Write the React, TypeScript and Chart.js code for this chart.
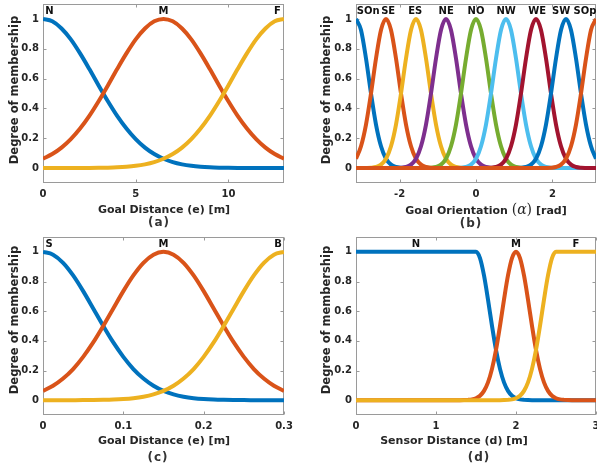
import React, { useEffect, useRef } from 'react';
import { Chart, registerables } from 'chart.js';

Chart.register(...registerables);

// ---------------- data ----------------
const yTickValues = [0, 0.2, 0.4, 0.6, 0.8, 1];
const yTickLabels = ['0', '0.2', '0.4', '0.6', '0.8', '1'];
const labelLevel = 1.05;

// (a) goal distance [m]
const distX = [0, 0.5, 1, 1.5, 2, 2.5, 3, 3.5, 4, 4.5, 5, 5.5, 6, 6.5, 7, 7.5, 8, 8.5, 9, 9.5, 10, 10.5, 11, 11.5, 12, 12.5, 13];
const distNear = [1, 0.984, 0.936, 0.863, 0.769, 0.664, 0.554, 0.448, 0.35, 0.265, 0.194, 0.137, 0.094, 0.0625, 0.04, 0.025, 0.015, 0.0087, 0.0049, 0.0027, 0.0014, 0.0007, 0.0004, 0.0002, 0.0001, 0, 0];
const distMid = [0.0625, 0.094, 0.137, 0.194, 0.265, 0.35, 0.448, 0.554, 0.664, 0.769, 0.863, 0.936, 0.984, 1, 0.984, 0.936, 0.863, 0.769, 0.664, 0.554, 0.448, 0.35, 0.265, 0.194, 0.137, 0.094, 0.0625];
const distFar = [0, 0, 0.0001, 0.0002, 0.0004, 0.0007, 0.0014, 0.0027, 0.0049, 0.0087, 0.015, 0.025, 0.04, 0.0625, 0.094, 0.137, 0.194, 0.265, 0.35, 0.448, 0.554, 0.664, 0.769, 0.863, 0.936, 0.984, 1];
const distTicks = [0, 5, 10];
const distTickLabels = ['0', '5', '10'];
const distNames = ['N', 'M', 'F'];
const distNameX = [0.35, 6.5, 12.65];

// (b) goal orientation [rad]
const orientX = [-3.1416, -3.0107, -2.8798, -2.7489, -2.618, -2.4871, -2.3562, -2.2253, -2.0944, -1.9635, -1.8326, -1.7017, -1.5708, -1.4399, -1.309, -1.1781, -1.0472, -0.9163, -0.7854, -0.6545, -0.5236, -0.3927, -0.2618, -0.1309, 0, 0.1309, 0.2618, 0.3927, 0.5236, 0.6545, 0.7854, 0.9163, 1.0472, 1.1781, 1.309, 1.4399, 1.5708, 1.7017, 1.8326, 1.9635, 2.0944, 2.2253, 2.3562, 2.4871, 2.618, 2.7489, 2.8798, 3.0107, 3.1416];
const orientSOn = [1, 0.926, 0.735, 0.5, 0.292, 0.146, 0.0625, 0.023, 0.0072, 0.002, 0.0005, 0.0001, 0, 0, 0, 0, 0, 0, 0, 0, 0, 0, 0, 0, 0, 0, 0, 0, 0, 0, 0, 0, 0, 0, 0, 0, 0, 0, 0, 0, 0, 0, 0, 0, 0, 0, 0, 0, 0];
const orientSE = [0.0625, 0.146, 0.292, 0.5, 0.735, 0.926, 1, 0.926, 0.735, 0.5, 0.292, 0.146, 0.0625, 0.023, 0.0072, 0.002, 0.0005, 0.0001, 0, 0, 0, 0, 0, 0, 0, 0, 0, 0, 0, 0, 0, 0, 0, 0, 0, 0, 0, 0, 0, 0, 0, 0, 0, 0, 0, 0, 0, 0, 0];
const orientES = [0, 0.0001, 0.0005, 0.002, 0.0072, 0.023, 0.0625, 0.146, 0.292, 0.5, 0.735, 0.926, 1, 0.926, 0.735, 0.5, 0.292, 0.146, 0.0625, 0.023, 0.0072, 0.002, 0.0005, 0.0001, 0, 0, 0, 0, 0, 0, 0, 0, 0, 0, 0, 0, 0, 0, 0, 0, 0, 0, 0, 0, 0, 0, 0, 0, 0];
const orientNE = [0, 0, 0, 0, 0, 0, 0, 0.0001, 0.0005, 0.002, 0.0072, 0.023, 0.0625, 0.146, 0.292, 0.5, 0.735, 0.926, 1, 0.926, 0.735, 0.5, 0.292, 0.146, 0.0625, 0.023, 0.0072, 0.002, 0.0005, 0.0001, 0, 0, 0, 0, 0, 0, 0, 0, 0, 0, 0, 0, 0, 0, 0, 0, 0, 0, 0];
const orientNO = [0, 0, 0, 0, 0, 0, 0, 0, 0, 0, 0, 0, 0, 0.0001, 0.0005, 0.002, 0.0072, 0.023, 0.0625, 0.146, 0.292, 0.5, 0.735, 0.926, 1, 0.926, 0.735, 0.5, 0.292, 0.146, 0.0625, 0.023, 0.0072, 0.002, 0.0005, 0.0001, 0, 0, 0, 0, 0, 0, 0, 0, 0, 0, 0, 0, 0];
const orientNW = [0, 0, 0, 0, 0, 0, 0, 0, 0, 0, 0, 0, 0, 0, 0, 0, 0, 0, 0, 0.0001, 0.0005, 0.002, 0.0072, 0.023, 0.0625, 0.146, 0.292, 0.5, 0.735, 0.926, 1, 0.926, 0.735, 0.5, 0.292, 0.146, 0.0625, 0.023, 0.0072, 0.002, 0.0005, 0.0001, 0, 0, 0, 0, 0, 0, 0];
const orientWE = [0, 0, 0, 0, 0, 0, 0, 0, 0, 0, 0, 0, 0, 0, 0, 0, 0, 0, 0, 0, 0, 0, 0, 0, 0, 0.0001, 0.0005, 0.002, 0.0072, 0.023, 0.0625, 0.146, 0.292, 0.5, 0.735, 0.926, 1, 0.926, 0.735, 0.5, 0.292, 0.146, 0.0625, 0.023, 0.0072, 0.002, 0.0005, 0.0001, 0];
const orientSW = [0, 0, 0, 0, 0, 0, 0, 0, 0, 0, 0, 0, 0, 0, 0, 0, 0, 0, 0, 0, 0, 0, 0, 0, 0, 0, 0, 0, 0, 0, 0, 0.0001, 0.0005, 0.002, 0.0072, 0.023, 0.0625, 0.146, 0.292, 0.5, 0.735, 0.926, 1, 0.926, 0.735, 0.5, 0.292, 0.146, 0.0625];
const orientSOp = [0, 0, 0, 0, 0, 0, 0, 0, 0, 0, 0, 0, 0, 0, 0, 0, 0, 0, 0, 0, 0, 0, 0, 0, 0, 0, 0, 0, 0, 0, 0, 0, 0, 0, 0, 0, 0, 0.0001, 0.0005, 0.002, 0.0072, 0.023, 0.0625, 0.146, 0.292, 0.5, 0.735, 0.926, 1];
const orientTicks = [-2, 0, 2];
const orientTickLabels = ['-2', '0', '2'];
const orientNames = ['SOn', 'SE', 'ES', 'NE', 'NO', 'NW', 'WE', 'SW', 'SOp'];
const orientNameX = [-2.82, -2.3, -1.59, -0.78, 0, 0.79, 1.6, 2.23, 2.85];

// (c) goal distance [m], small scale
const goalX = [0, 0.0125, 0.025, 0.0375, 0.05, 0.0625, 0.075, 0.0875, 0.1, 0.1125, 0.125, 0.1375, 0.15, 0.1625, 0.175, 0.1875, 0.2, 0.2125, 0.225, 0.2375, 0.25, 0.2625, 0.275, 0.2875, 0.3];
const goalSmall = [1, 0.981, 0.926, 0.841, 0.735, 0.618, 0.5, 0.389, 0.292, 0.21, 0.146, 0.0973, 0.0625, 0.0386, 0.023, 0.0131, 0.0072, 0.0038, 0.002, 0.001, 0.0004, 0.0002, 0.0001, 0, 0];
const goalMid = [0.0625, 0.0973, 0.146, 0.21, 0.292, 0.389, 0.5, 0.618, 0.735, 0.841, 0.926, 0.981, 1, 0.981, 0.926, 0.841, 0.735, 0.618, 0.5, 0.389, 0.292, 0.21, 0.146, 0.0973, 0.0625];
const goalBig = [0, 0, 0.0001, 0.0002, 0.0004, 0.001, 0.002, 0.0038, 0.0072, 0.0131, 0.023, 0.0386, 0.0625, 0.0973, 0.146, 0.21, 0.292, 0.389, 0.5, 0.618, 0.735, 0.841, 0.926, 0.981, 1];
const goalTicks = [0, 0.1, 0.2, 0.3];
const goalTickLabels = ['0', '0.1', '0.2', '0.3'];
const goalNames = ['S', 'M', 'B'];
const goalNameX = [0.0075, 0.15, 0.2925];

// (d) sensor distance [m]
const sensorX = [0, 0.05, 0.1, 0.15, 0.2, 0.25, 0.3, 0.35, 0.4, 0.45, 0.5, 0.55, 0.6, 0.65, 0.7, 0.75, 0.8, 0.85, 0.9, 0.95, 1, 1.05, 1.1, 1.15, 1.2, 1.25, 1.3, 1.35, 1.4, 1.45, 1.5, 1.55, 1.6, 1.65, 1.7, 1.75, 1.8, 1.85, 1.9, 1.95, 2, 2.05, 2.1, 2.15, 2.2, 2.25, 2.3, 2.35, 2.4, 2.45, 2.5, 2.55, 2.6, 2.65, 2.7, 2.75, 2.8, 2.85, 2.9, 2.95, 3];
const sensorNear = [1, 1, 1, 1, 1, 1, 1, 1, 1, 1, 1, 1, 1, 1, 1, 1, 1, 1, 1, 1, 1, 1, 1, 1, 1, 1, 1, 1, 1, 1, 1, 0.958, 0.841, 0.678, 0.501, 0.339, 0.211, 0.12, 0.0628, 0.0301, 0.0132, 0.0053, 0.002, 0.0007, 0.0002, 0.0001, 0, 0, 0, 0, 0, 0, 0, 0, 0, 0, 0, 0, 0, 0, 0];
const sensorMid = [0, 0, 0, 0, 0, 0, 0, 0, 0, 0, 0, 0, 0, 0, 0, 0, 0, 0, 0, 0, 0, 0, 0, 0, 0, 0.0001, 0.0002, 0.0007, 0.002, 0.0053, 0.0132, 0.0301, 0.0628, 0.12, 0.211, 0.339, 0.501, 0.678, 0.841, 0.958, 1, 0.958, 0.841, 0.678, 0.501, 0.339, 0.211, 0.12, 0.0628, 0.0301, 0.0132, 0.0053, 0.002, 0.0007, 0.0002, 0.0001, 0, 0, 0, 0, 0];
const sensorFar = [0, 0, 0, 0, 0, 0, 0, 0, 0, 0, 0, 0, 0, 0, 0, 0, 0, 0, 0, 0, 0, 0, 0, 0, 0, 0, 0, 0, 0, 0, 0, 0, 0, 0, 0, 0.0001, 0.0002, 0.0007, 0.002, 0.0053, 0.0132, 0.0301, 0.0628, 0.12, 0.211, 0.339, 0.501, 0.678, 0.841, 0.958, 1, 1, 1, 1, 1, 1, 1, 1, 1, 1, 1];
const sensorTicks = [0, 1, 2, 3];
const sensorTickLabels = ['0', '1', '2', '3'];
const sensorNames = ['N', 'M', 'F'];
const sensorNameX = [0.75, 2, 2.75];

// ---------------- styling ----------------
const SANS = "'DejaVu Sans', 'Liberation Sans', sans-serif";
const INK = '#262626';
const AXIS = '#9a9a9a';
const BLUE = '#0072BD';
const ORANGE = '#D95319';
const YELLOW = '#EDB120';
const PURPLE = '#7E2F8E';
const GREEN = '#77AC30';
const CYAN = '#4DBEEE';
const RED = '#A2142F';

type Spec = {
  left: number; top: number; width: number; height: number;
  yw: number; xh: number; padTop: number; padRight: number;
  x: number[]; series: { v: number[]; c: string }[];
  xMin: number; xMax: number; xTicks: number[]; xTickLabels: string[];
  names: string[]; nameX: number[];
};

const specA: Spec = {
  left: 0, top: 0, width: 300, height: 230, yw: 43, xh: 47, padTop: 4, padRight: 16,
  x: distX, series: [{ v: distNear, c: BLUE }, { v: distMid, c: ORANGE }, { v: distFar, c: YELLOW }],
  xMin: 0, xMax: 13, xTicks: distTicks, xTickLabels: distTickLabels, names: distNames, nameX: distNameX,
};
const specB: Spec = {
  left: 300, top: 0, width: 297, height: 230, yw: 56, xh: 47, padTop: 4, padRight: 1,
  x: orientX,
  series: [
    { v: orientSOn, c: BLUE }, { v: orientSE, c: ORANGE }, { v: orientES, c: YELLOW },
    { v: orientNE, c: PURPLE }, { v: orientNO, c: GREEN }, { v: orientNW, c: CYAN },
    { v: orientWE, c: RED }, { v: orientSW, c: BLUE }, { v: orientSOp, c: ORANGE },
  ],
  xMin: -3.1416, xMax: 3.1416, xTicks: orientTicks, xTickLabels: orientTickLabels, names: orientNames, nameX: orientNameX,
};
const specC: Spec = {
  left: 0, top: 230, width: 300, height: 238, yw: 43, xh: 53, padTop: 7, padRight: 16,
  x: goalX, series: [{ v: goalSmall, c: BLUE }, { v: goalMid, c: ORANGE }, { v: goalBig, c: YELLOW }],
  xMin: 0, xMax: 0.3, xTicks: goalTicks, xTickLabels: goalTickLabels, names: goalNames, nameX: goalNameX,
};
const specD: Spec = {
  left: 300, top: 230, width: 297, height: 238, yw: 56, xh: 53, padTop: 7, padRight: 1,
  x: sensorX, series: [{ v: sensorNear, c: BLUE }, { v: sensorMid, c: ORANGE }, { v: sensorFar, c: YELLOW }],
  xMin: 0, xMax: 3, xTicks: sensorTicks, xTickLabels: sensorTickLabels, names: sensorNames, nameX: sensorNameX,
};

function framePlugin(spec: Spec) {
  return {
    id: 'matlabFrame',
    beforeDatasetsDraw(chart: any) {
      const { ctx, chartArea: a, scales } = chart;
      const L = Math.round(a.left) + 0.5;
      const R = Math.round(a.right) - 0.5;
      const T = Math.round(a.top) + 0.5;
      const B = Math.round(a.bottom) - 0.5;
      ctx.save();
      ctx.strokeStyle = AXIS;
      ctx.lineWidth = 1;
      ctx.strokeRect(L, T, R - L, B - T);
      ctx.beginPath();
      spec.xTicks.forEach((v) => {
        const px = Math.round(scales.x.getPixelForValue(v)) + 0.5;
        ctx.moveTo(px, B); ctx.lineTo(px, B - 3);
        ctx.moveTo(px, T); ctx.lineTo(px, T + 3);
      });
      yTickValues.forEach((v) => {
        const py = Math.round(scales.y.getPixelForValue(v)) + 0.5;
        ctx.moveTo(L, py); ctx.lineTo(L + 3, py);
        ctx.moveTo(R, py); ctx.lineTo(R - 3, py);
      });
      ctx.stroke();
      ctx.restore();
    },
    afterDatasetsDraw(chart: any) {
      const { ctx, scales } = chart;
      ctx.save();
      ctx.font = `bold 10px ${SANS}`;
      ctx.fillStyle = '#111';
      ctx.textAlign = 'center';
      ctx.textBaseline = 'middle';
      spec.names.forEach((n, i) => {
        ctx.fillText(n, scales.x.getPixelForValue(spec.nameX[i]), scales.y.getPixelForValue(labelLevel));
      });
      ctx.restore();
    },
  };
}

function makeConfig(spec: Spec): any {
  const tickFont = { family: SANS, size: 10, weight: 'bold' as const };
  return {
    type: 'line',
    data: {
      datasets: spec.series.map((s, i) => ({
        data: spec.x.map((xv, k) => ({ x: xv, y: s.v[k] })),
        borderColor: s.c,
        backgroundColor: s.c,
        borderWidth: 4,
        pointRadius: 0,
        fill: false,
        cubicInterpolationMode: 'monotone',
        order: -i,
      })),
    },
    options: {
      responsive: false,
      animation: false,
      events: [],
      layout: { padding: { left: 0, top: spec.padTop, right: spec.padRight, bottom: 0 } },
      plugins: { legend: { display: false }, tooltip: { enabled: false }, title: { display: false } },
      scales: {
        x: {
          type: 'linear',
          min: spec.xMin,
          max: spec.xMax,
          grid: { display: false, drawTicks: false },
          border: { display: false },
          ticks: {
            font: tickFont, color: INK, padding: 5, autoSkip: false, maxRotation: 0,
            callback: (_v: any, i: number) => spec.xTickLabels[i],
          },
          afterBuildTicks: (s: any) => { s.ticks = spec.xTicks.map((v) => ({ value: v })); },
          afterFit: (s: any) => { s.height = spec.xh; s.paddingLeft = 0; s.paddingRight = 0; },
        },
        y: {
          type: 'linear',
          min: -0.1,
          max: 1.1,
          grid: { display: false, drawTicks: false },
          border: { display: false },
          ticks: {
            font: tickFont, color: INK, padding: 4, autoSkip: false,
            callback: (_v: any, i: number) => yTickLabels[i],
          },
          afterBuildTicks: (s: any) => { s.ticks = yTickValues.map((v) => ({ value: v })); },
          afterFit: (s: any) => { s.width = spec.yw; s.paddingTop = 0; s.paddingBottom = 0; },
        },
      },
    },
    plugins: [framePlugin(spec)],
  };
}

function Panel({ spec }: { spec: Spec }) {
  const ref = useRef<HTMLCanvasElement>(null);
  useEffect(() => {
    const chart = new Chart(ref.current as HTMLCanvasElement, makeConfig(spec));
    return () => chart.destroy();
  }, [spec]);
  return (
    <canvas
      ref={ref}
      width={spec.width}
      height={spec.height}
      style={{ position: 'absolute', left: spec.left, top: spec.top, width: spec.width, height: spec.height, display: 'block' }}
    />
  );
}

const textBase: React.CSSProperties = {
  position: 'absolute',
  whiteSpace: 'nowrap',
  fontFamily: SANS,
  fontWeight: 'bold',
  color: INK,
  lineHeight: 1,
};

function XTitle({ x, y, children }: { x: number; y: number; children: React.ReactNode }) {
  return <div style={{ ...textBase, left: x, top: y, fontSize: 11, transform: 'translate(-50%, -50%)' }}>{children}</div>;
}
function YTitle({ x, y }: { x: number; y: number }) {
  return (
    <div style={{ ...textBase, left: x, top: y, fontSize: 11.5, transform: 'translate(-50%, -50%) rotate(-90deg)' }}>
      Degree of membership
    </div>
  );
}
function Caption({ x, y, t }: { x: number; y: number; t: string }) {
  return (
    <div style={{ ...textBase, left: x, top: y, fontSize: 12, letterSpacing: 1, color: '#333', transform: 'translate(-50%, -50%)' }}>
      {t}
    </div>
  );
}

export default function App() {
  return (
    <div style={{ position: 'absolute', left: 0, top: 0, width: 597, height: 468, background: '#fff', overflow: 'hidden' }}>
      <Panel spec={specA} />
      <Panel spec={specB} />
      <Panel spec={specC} />
      <Panel spec={specD} />
      <YTitle x={14.5} y={90} />
      <YTitle x={327} y={90} />
      <YTitle x={14.5} y={320} />
      <YTitle x={327} y={320} />
      <XTitle x={164} y={208.5}>Goal Distance (e) [m]</XTitle>
      <XTitle x={486} y={208.5}>
        Goal Orientation{' '}
        <span style={{ fontFamily: "'DejaVu Serif', serif", fontWeight: 'normal', fontSize: 14 }}>
          (<i>α</i>)
        </span>{' '}
        [rad]
      </XTitle>
      <XTitle x={164} y={440}>Goal Distance (e) [m]</XTitle>
      <XTitle x={454} y={440}>Sensor Distance (d) [m]</XTitle>
      <Caption x={159} y={222} t="(a)" />
      <Caption x={471} y={223} t="(b)" />
      <Caption x={158} y={457} t="(c)" />
      <Caption x={479} y={457} t="(d)" />
    </div>
  );
}
